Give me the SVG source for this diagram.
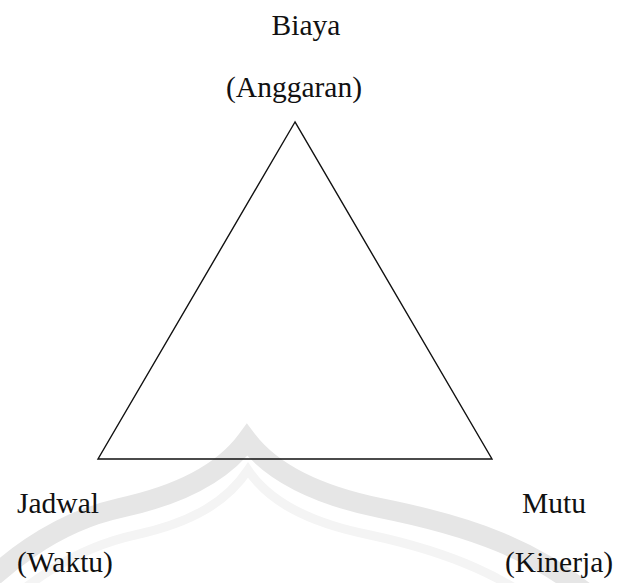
<svg xmlns="http://www.w3.org/2000/svg" width="622" height="583" viewBox="0 0 622 583">
<style>
.lbl{font-family:"Liberation Serif","Times New Roman",serif;font-size:29.5px;fill:#111111}
.wm{fill:none;stroke-linejoin:miter}
</style>
<rect x="0" y="0" width="622" height="583" fill="#ffffff"/>
<g id="watermark">
<path class="wm" stroke="#e6e6e6" stroke-width="20" d="M -40,610 C 0,565 55,522 120,508 C 185,494 225,470 247,440 C 270,470 312,494 380,508 C 460,524 545,548 610,615"/>
<path class="wm" stroke="#f4f4f4" stroke-width="9" d="M -20,630 C 20,585 75,548 135,535 C 195,522 228,500 248,470 C 268,500 305,522 370,535 C 440,550 515,575 575,635"/>
</g>
<g id="connectors">
<polygon points="295,122 98,459 492,459" fill="none" stroke="#111" stroke-width="1.4"/>
</g>
<g id="node-biaya">
<text class="lbl" x="306" y="35" text-anchor="middle">Biaya</text>
<text class="lbl" x="294" y="97" text-anchor="middle">(Anggaran)</text>
</g>
<g id="node-jadwal">
<text class="lbl" x="17" y="513">Jadwal</text>
<text class="lbl" x="17" y="572">(Waktu)</text>
</g>
<g id="node-mutu">
<text class="lbl" x="522" y="513">Mutu</text>
<text class="lbl" x="505" y="572">(Kinerja)</text>
</g>
</svg>
